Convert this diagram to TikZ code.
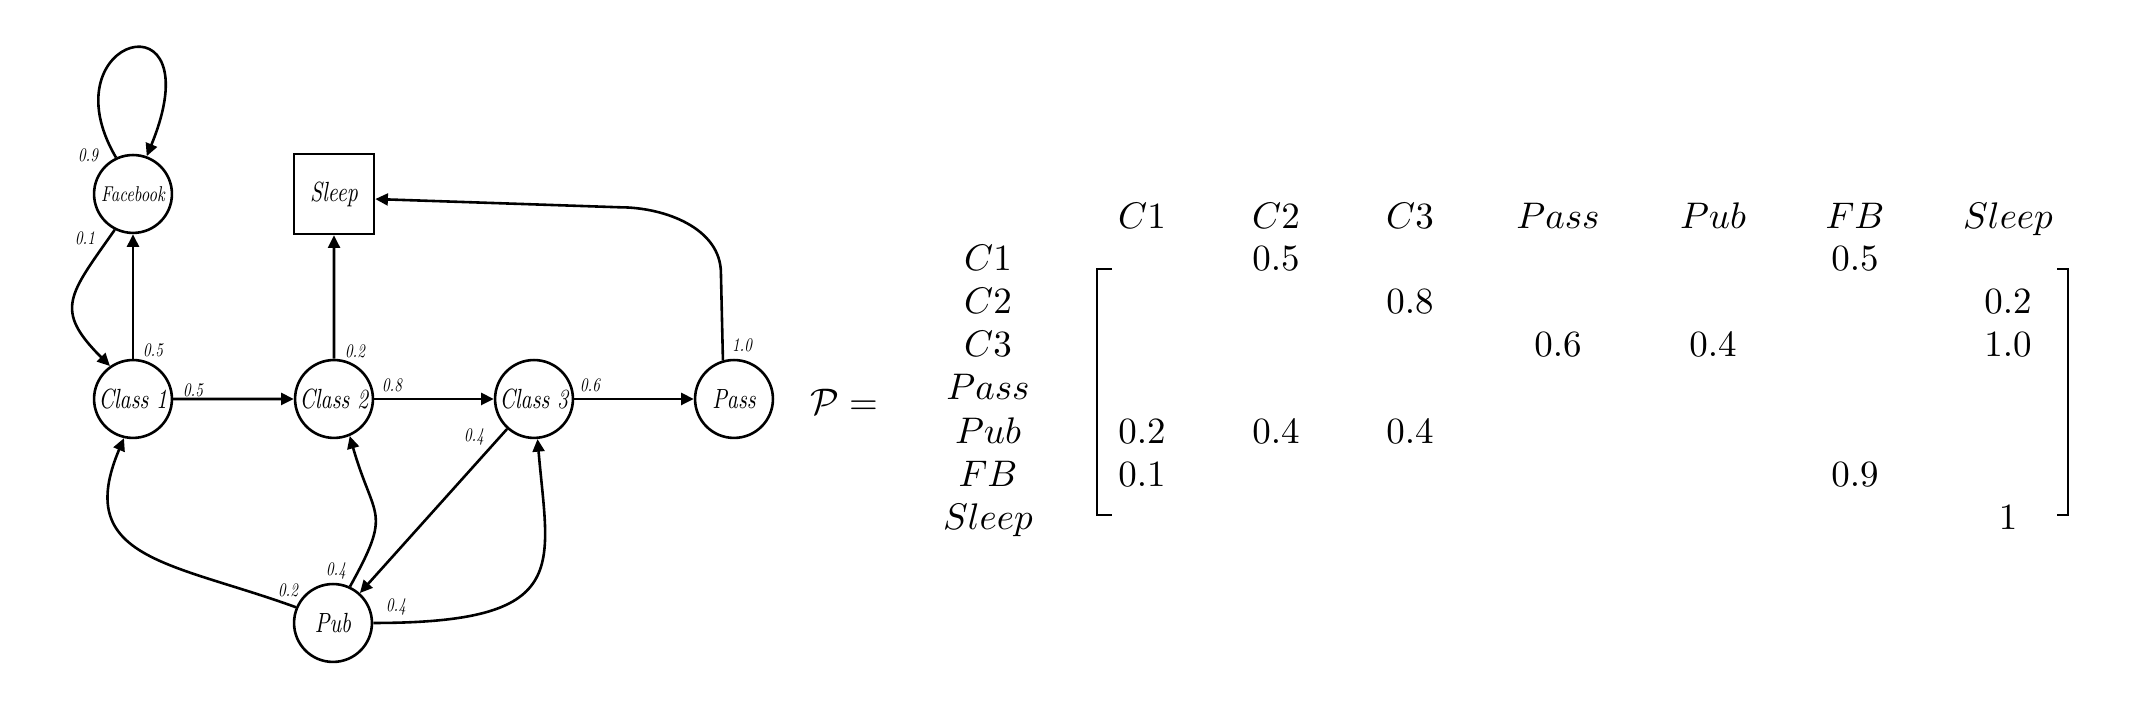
\documentclass[tikz,border=0pt]{standalone}
\usepackage{fontspec}
\newfontfamily\statefont[FakeStretch=0.78, Extension=.otf, UprightFont=*-regular, ItalicFont=*-italic]{lmroman10}
\usetikzlibrary{arrows.meta}

\begin{document}
\begin{tikzpicture}[scale=.095,
  state/.style={circle, draw, line width=0.7pt, minimum size=0.74cm, inner sep=0pt, font=\statefont\fontsize{7.5}{8}\selectfont\itshape},
  endstate/.style={rectangle, draw, line width=0.7pt, minimum size=0.76cm, inner sep=0pt, font=\statefont\fontsize{7.5}{8}\selectfont\itshape},
  prob/.style={inner sep=0pt, font=\statefont\fontsize{5.2}{6}\selectfont\itshape},
  arr/.style={line width=0.7pt, -{Triangle[length=3.4pt,width=3.2pt]}},
  entry/.style={anchor=base, inner sep=0pt}]
\useasboundingbox (0,0) rectangle (214,71.8);
% chain
\node[state, font=\statefont\fontsize{5.8}{6}\selectfont\itshape] (fb) at (13.3,52.4){Facebook};
\node[endstate] (sleep) at (33.4,52.4){Sleep};
\node[state] (c1) at (13.3,31.9){Class 1};
\node[state] (c2) at (33.4,31.9){Class 2};
\node[state] (c3) at (53.4,31.9){Class 3};
\node[state] (pass) at (73.4,31.9){Pass};
\node[state] (pub) at (33.3,9.5){Pub};
\draw[arr](fb.115) .. controls +(-7.1,12.1) and +(6.8,16.6) .. (fb.70);
\draw[arr](fb.243) to[out=235,in=135,looseness=1.5] (c1.125);
\draw[arr](c1) -- (fb);
\draw[arr](c1) -- (c2);
\draw[arr](c2) -- (sleep);
\draw[arr](c2) -- (c3);
\draw[arr](c3) -- (pass);
\draw[arr](pass.106) -- ++(-0.2,8.7) .. controls +(0,4.5) and +(4.5,0) .. ++(-10.1,6.6) -- (sleep.-7);
\draw[arr](c3) -- (pub);
\draw[arr](pub.157) to[out=160,in=247,looseness=1.4] (c1.257);
\draw[arr](pub.65) to[out=61,in=286,looseness=1.5] (c2.293);
\draw[arr](pub.0) .. controls +(20,0) and +(1.1,-12.9) .. (c3.275);
\node[prob] (l-fb-fb) at (8.8,56.3){0.9};
\node[prob] (l-fb-c1) at (8.5,48.0){0.1};
\node[prob] (l-c1-fb) at (15.3,36.8){0.5};
\node[prob] (l-c2-sleep) at (35.5,36.7){0.2};
\node[prob] (l-c1-c2) at (19.3,32.8){0.5};
\node[prob] (l-c2-c3) at (39.2,33.3){0.8};
\node[prob] (l-c3-pass) at (59.0,33.3){0.6};
\node[prob] (l-pass-sleep) at (74.2,37.3){1.0};
\node[prob] (l-c3-pub) at (47.4,28.1){0.4};
\node[prob] (l-pub-c1) at (28.8,12.8){0.2};
\node[prob] (l-pub-c2) at (33.6,14.7){0.4};
\node[prob] (l-pub-c3) at (39.6,11.1){0.4};
% matrix
\node[entry] (pdef) at (84.4,30.3){$\mathcal{P} =$};
\node[entry] (h-c1) at (114.2,48.9){$C1$};
\node[entry] (h-c2) at (127.6,48.9){$C2$};
\node[entry] (h-c3) at (141.0,48.9){$C3$};
\node[entry] (h-pass) at (155.8,48.9){$Pass$};
\node[entry] (h-pub) at (171.3,48.9){$Pub$};
\node[entry] (h-fb) at (185.5,48.9){$FB$};
\node[entry] (h-sleep) at (200.8,48.9){$Sleep$};
\node[entry] (r-c1) at (98.8,44.7){$C1$};
\node[entry] (r-c2) at (98.8,40.4){$C2$};
\node[entry] (r-c3) at (98.8,36.1){$C3$};
\node[entry] (r-pass) at (98.8,31.8){$Pass$};
\node[entry] (r-pub) at (98.8,27.4){$Pub$};
\node[entry] (r-fb) at (98.8,23.1){$FB$};
\node[entry] (r-sleep) at (98.8,18.8){$Sleep$};
\node[entry] (m-c1-c2) at (127.6,44.7){$0.5$};
\node[entry] (m-c1-fb) at (185.5,44.7){$0.5$};
\node[entry] (m-c2-c3) at (141.0,40.4){$0.8$};
\node[entry] (m-c2-sleep) at (200.8,40.4){$0.2$};
\node[entry] (m-c3-pass) at (155.8,36.1){$0.6$};
\node[entry] (m-c3-pub) at (171.3,36.1){$0.4$};
\node[entry] (m-c3-sleep) at (200.8,36.1){$1.0$};
\node[entry] (m-pub-c1) at (114.2,27.4){$0.2$};
\node[entry] (m-pub-c2) at (127.6,27.4){$0.4$};
\node[entry] (m-pub-c3) at (141.0,27.4){$0.4$};
\node[entry] (m-fb-c1) at (114.2,23.1){$0.1$};
\node[entry] (m-fb-fb) at (185.5,23.1){$0.9$};
\node[entry] (m-sleep-sleep) at (200.8,18.8){$1$};
\draw[line width=0.45pt] (111.2,44.9) -- (109.7,44.9) -- (109.7,20.3) -- (111.2,20.3);
\draw[line width=0.45pt] (205.7,44.9) -- (206.8,44.9) -- (206.8,20.3) -- (205.7,20.3);
\end{tikzpicture}
\end{document}
